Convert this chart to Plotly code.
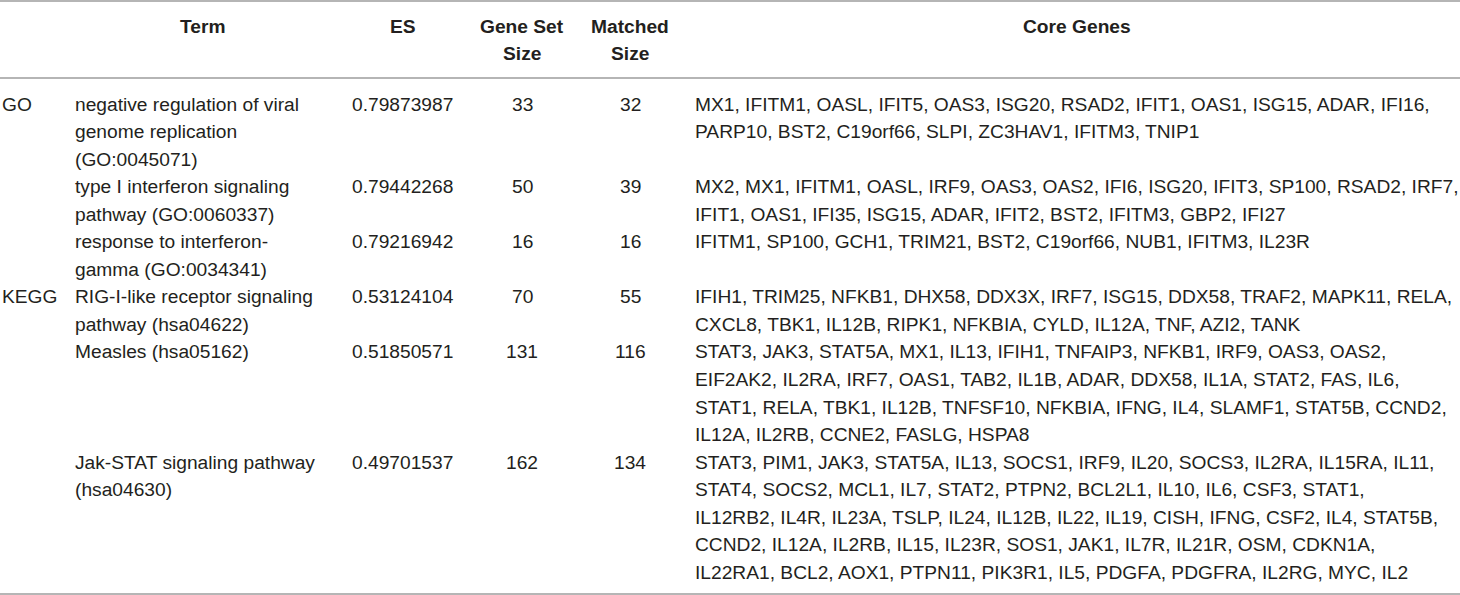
import plotly.graph_objects as go

# Табличні дані (GSEA)
categories = ["GO", "", "", "KEGG", "", ""]
terms = [
    ["negative regulation of viral", "genome replication", "(GO:0045071)"],
    ["type I interferon signaling", "pathway (GO:0060337)"],
    ["response to interferon-", "gamma (GO:0034341)"],
    ["RIG-I-like receptor signaling", "pathway (hsa04622)"],
    ["Measles (hsa05162)"],
    ["Jak-STAT signaling pathway", "(hsa04630)"],
]
es_values = [0.79873987, 0.79442268, 0.79216942, 0.53124104, 0.51850571, 0.49701537]
gene_set_size = [33, 50, 16, 70, 131, 162]
matched_size = [32, 39, 16, 55, 116, 134]
core_genes = [
    ["MX1, IFITM1, OASL, IFIT5, OAS3, ISG20, RSAD2, IFIT1, OAS1, ISG15, ADAR, IFI16,",
     "PARP10, BST2, C19orf66, SLPI, ZC3HAV1, IFITM3, TNIP1"],
    ["MX2, MX1, IFITM1, OASL, IRF9, OAS3, OAS2, IFI6, ISG20, IFIT3, SP100, RSAD2, IRF7,",
     "IFIT1, OAS1, IFI35, ISG15, ADAR, IFIT2, BST2, IFITM3, GBP2, IFI27"],
    ["IFITM1, SP100, GCH1, TRIM21, BST2, C19orf66, NUB1, IFITM3, IL23R"],
    ["IFIH1, TRIM25, NFKB1, DHX58, DDX3X, IRF7, ISG15, DDX58, TRAF2, MAPK11, RELA,",
     "CXCL8, TBK1, IL12B, RIPK1, NFKBIA, CYLD, IL12A, TNF, AZI2, TANK"],
    ["STAT3, JAK3, STAT5A, MX1, IL13, IFIH1, TNFAIP3, NFKB1, IRF9, OAS3, OAS2,",
     "EIF2AK2, IL2RA, IRF7, OAS1, TAB2, IL1B, ADAR, DDX58, IL1A, STAT2, FAS, IL6,",
     "STAT1, RELA, TBK1, IL12B, TNFSF10, NFKBIA, IFNG, IL4, SLAMF1, STAT5B, CCND2,",
     "IL12A, IL2RB, CCNE2, FASLG, HSPA8"],
    ["STAT3, PIM1, JAK3, STAT5A, IL13, SOCS1, IRF9, IL20, SOCS3, IL2RA, IL15RA, IL11,",
     "STAT4, SOCS2, MCL1, IL7, STAT2, PTPN2, BCL2L1, IL10, IL6, CSF3, STAT1,",
     "IL12RB2, IL4R, IL23A, TSLP, IL24, IL12B, IL22, IL19, CISH, IFNG, CSF2, IL4, STAT5B,",
     "CCND2, IL12A, IL2RB, IL15, IL23R, SOS1, JAK1, IL7R, IL21R, OSM, CDKN1A,",
     "IL22RA1, BCL2, AOX1, PTPN11, PIK3R1, IL5, PDGFA, PDGFRA, IL2RG, MYC, IL2"],
]
headers = [["Term"], ["ES"], ["Gene Set", "Size"], ["Matched", "Size"], ["Core Genes"]]

# Геометрія таблиці (пікселі)
W, H = 1460, 595
FONT = "Liberation Sans, Arial, Helvetica, sans-serif"
TEXT_COLOR = "#231f20"
LINE_COLOR = "#9d9d9d"
FS = 19.2
PITCH = 27.55
HEAD_Y0 = 26
BODY_Y0 = 104
header_x = [203, 403, 522, 630, 1077]
col_cat, col_term, col_es, col_gs, col_ms, col_core = 0, 73, 350, 522, 630, 693

fig = go.Figure()
annotations = []


def add_text(x, y, text, anchor="left", bold=False):
    annotations.append(dict(
        x=x, y=y, xref="x", yref="y", text=f"<b>{text}</b>" if bold else text,
        showarrow=False, xanchor=anchor, yanchor="middle",
        font=dict(family=FONT, size=FS, color=TEXT_COLOR),
    ))


for hx, lines in zip(header_x, headers):
    for k, line in enumerate(lines):
        add_text(hx, HEAD_Y0 + k * PITCH, line, anchor="center", bold=True)

line_idx = 0
for i in range(len(terms)):
    y = BODY_Y0 + line_idx * PITCH
    add_text(col_cat, y, categories[i])
    for k, line in enumerate(terms[i]):
        add_text(col_term, y + k * PITCH, line)
    add_text(col_es, y, f"{es_values[i]:.8f}")
    add_text(col_gs, y, str(gene_set_size[i]), anchor="center")
    add_text(col_ms, y, str(matched_size[i]), anchor="center")
    for k, line in enumerate(core_genes[i]):
        add_text(col_core, y + k * PITCH, line)
    line_idx += max(len(terms[i]), len(core_genes[i]))

# Горизонтальні лінії таблиці
for ly in [1, 78, 594]:
    fig.add_shape(type="line", x0=0, x1=W, y0=ly, y1=ly, xref="x", yref="y",
                  line=dict(color=LINE_COLOR, width=1.6))

fig.update_layout(
    width=W, height=H,
    margin=dict(l=0, r=0, t=0, b=0),
    paper_bgcolor="white", plot_bgcolor="white",
    xaxis=dict(range=[0, W], visible=False, fixedrange=True),
    yaxis=dict(range=[H, 0], visible=False, fixedrange=True),
    annotations=annotations,
    showlegend=False,
)

fig.write_html("out.html", post_script="document.body.style.margin='0';",
               config={"displayModeBar": False})
